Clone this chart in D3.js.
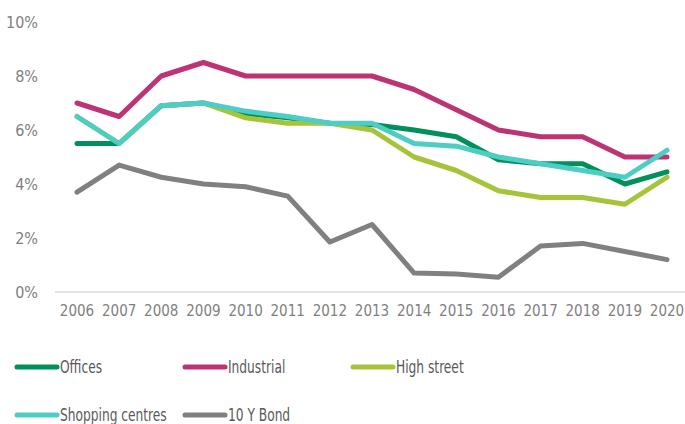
<!DOCTYPE html>
<html>
<head>
<meta charset="utf-8">
<script src="https://d3js.org/d3.v7.min.js"></script>
<style>
  body { margin: 0; background: #fff; }
  text { font-family: "Liberation Sans Narrow", "DejaVu Sans Condensed", "Liberation Sans", sans-serif; }
</style>
</head>
<body>
<svg width="685" height="424"></svg>
<script>
var years = [2006, 2007, 2008, 2009, 2010, 2011, 2012, 2013, 2014, 2015, 2016, 2017, 2018, 2019, 2020];
var offices = [5.5, 5.5, 6.9, 7.0, 6.6, 6.45, 6.25, 6.2, 6.0, 5.75, 4.9, 4.75, 4.75, 4.0, 4.45];
var industrial = [7.0, 6.5, 8.0, 8.5, 8.0, 8.0, 8.0, 8.0, 7.5, 6.75, 6.0, 5.75, 5.75, 5.0, 5.0];
var highStreet = [6.5, 5.5, 6.9, 7.0, 6.45, 6.25, 6.25, 6.0, 5.0, 4.5, 3.75, 3.5, 3.5, 3.25, 4.25];
var shopping = [6.5, 5.5, 6.9, 7.0, 6.7, 6.5, 6.25, 6.25, 5.5, 5.4, 5.0, 4.75, 4.5, 4.25, 5.25];
var bond = [3.7, 4.7, 4.25, 4.0, 3.9, 3.55, 1.85, 2.5, 0.7, 0.67, 0.55, 1.7, 1.8, 1.5, 1.2];
var yTicks = [0, 2, 4, 6, 8, 10];

var series = [
  { name: "Offices", values: offices, color: "#00915a" },
  { name: "Industrial", values: industrial, color: "#bc3473" },
  { name: "High street", values: highStreet, color: "#a5c43a" },
  { name: "Shopping centres", values: shopping, color: "#4ecdc4" },
  { name: "10 Y Bond", values: bond, color: "#808080" }
];

var svg = d3.select("svg");

var x = d3.scalePoint().domain(years).range([77, 667]);
var y = d3.scaleLinear().domain([0, 10]).range([292, 22]);

// baseline
svg.append("line")
  .attr("x1", 55).attr("x2", 685)
  .attr("y1", y(0)).attr("y2", y(0))
  .attr("stroke", "#d9d9d9")
  .attr("stroke-width", 1.5);

// y labels
svg.append("g")
  .selectAll("text")
  .data(yTicks)
  .enter()
  .append("text")
  .attr("x", 38)
  .attr("y", (d) => y(d))
  .attr("dy", "0.35em")
  .attr("text-anchor", "end")
  .attr("font-size", "16px")
  .attr("fill", "#7f7f7f")
  .text((d) => d + "%");

// x labels
svg.append("g")
  .selectAll("text")
  .data(years)
  .enter()
  .append("text")
  .attr("x", (d) => x(d))
  .attr("y", 316)
  .attr("text-anchor", "middle")
  .attr("font-size", "15px")
  .attr("fill", "#7f7f7f")
  .text((d) => d);

var line = d3.line()
  .x((d, i) => x(years[i]))
  .y((d) => y(d));

svg.append("g")
  .selectAll("path")
  .data(series)
  .enter()
  .append("path")
  .attr("d", (d) => line(d.values))
  .attr("fill", "none")
  .attr("stroke", (d) => d.color)
  .attr("stroke-width", 5)
  .attr("stroke-linejoin", "round")
  .attr("stroke-linecap", "round");

// legend
var legendPos = [[17, 367], [185, 367], [353, 367], [17, 415], [185, 415]];
var legend = svg.append("g")
  .selectAll("g")
  .data(series)
  .enter()
  .append("g")
  .attr("transform", (d, i) => "translate(" + legendPos[i][0] + "," + legendPos[i][1] + ")");

legend.append("line")
  .attr("x1", 0).attr("x2", 40)
  .attr("stroke", (d) => d.color)
  .attr("stroke-width", 5)
  .attr("stroke-linecap", "round");

// narrow the legend text to match the condensed face of the original
legend.append("text")
  .attr("transform", "translate(43,0) scale(0.8,1)")
  .attr("dy", "0.35em")
  .attr("font-size", "17px")
  .attr("fill", "#595959")
  .text((d) => d.name);
</script>
</body>
</html>
